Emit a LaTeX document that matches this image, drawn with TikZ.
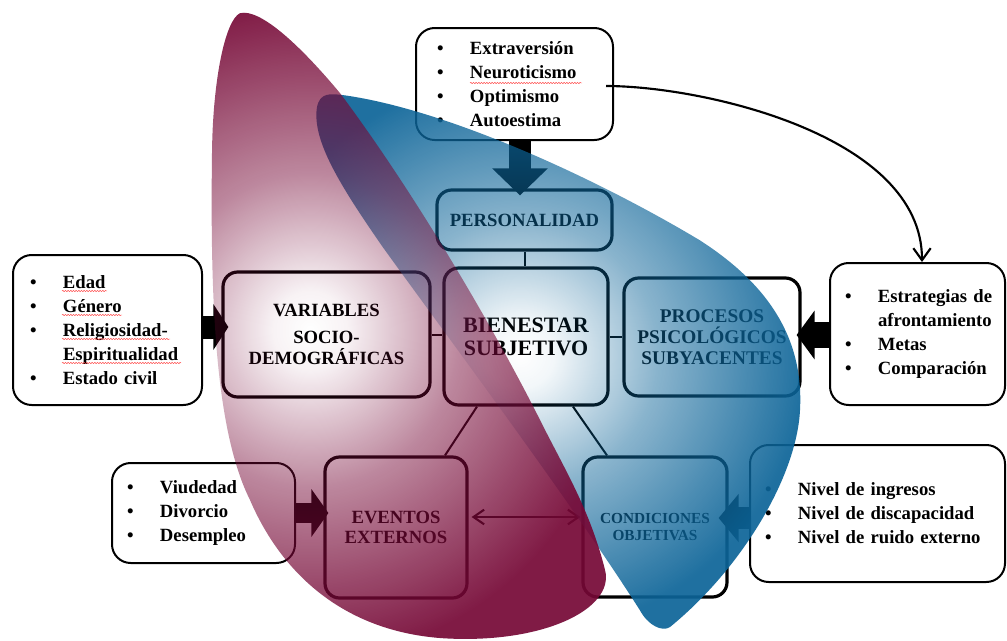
\documentclass[tikz,border=0pt]{standalone}
\usepackage{fontspec}
\setmainfont{Liberation Serif}
\usetikzlibrary{arrows.meta,calc,fadings,decorations.pathmorphing}
\definecolor{blobblue}{RGB}{12,100,152}
\definecolor{blobmaroon}{RGB}{118,8,54}
\pgfdeclareradialshading{fadeshade}{\pgfpointorigin}{color(0bp)=(black); color(3bp)=(black!95); color(12bp)=(black!52); color(25bp)=(black!8); color(50bp)=(black!8)}
\pgfdeclarefading{blobfade}{\pgfuseshading{fadeshade}}
\newcommand\itm[1]{\mbox{\makebox[24.75pt][l]{\textbullet}#1}}
\newcommand\contline[1]{\mbox{\hspace*{24.75pt}#1}}
\begin{document}
\begin{tikzpicture}[x=0.75pt,y=-0.75pt]
\tikzset{
  listbox/.style={draw=black, line width=1.5pt, rounded corners=14pt, fill=white, align=left,
    inner xsep=0pt, inner ysep=0pt, font=\fontsize{14pt}{18pt}\selectfont\bfseries},
  mainbox/.style={draw=black, line width=2.4pt, rounded corners=11pt, fill=white, align=center, inner sep=0pt},
  link/.style={draw=black, line width=1.5pt},
  blockarrow/.style={draw=black, line cap=butt},
  thinarrow/.style={draw=black, line width=1.6pt},
  squig/.style={draw=red!75, line width=0.35pt, decorate, decoration={snake, amplitude=0.45pt, segment length=2pt}}
}
\fill[white] (0,0) rectangle (1007,640);
\useasboundingbox (0,0) rectangle (1007,640);

% list boxes
\node[listbox, minimum width=147.75pt, minimum height=84pt, text width=116.25pt] (perslist) at (514.5,84)
  {\itm{Extraversión}\\\itm{Neuroticismo}\\\itm{Optimismo}\\\itm{Autoestima}};
\node[listbox, minimum width=141.75pt, minimum height=112.5pt, text width=116.25pt] (socio) at (107.5,330)
  {\itm{Edad}\\\itm{Género}\\\itm{Religiosidad-}\\\contline{Espiritualidad}\\\itm{Estado civil}};
\node[listbox, minimum width=131.25pt, minimum height=106.5pt, text width=108.75pt] (proclist) at (917.5,334)
  {\itm{Estrategias de}\\\contline{afrontamiento}\\\itm{Metas}\\\itm{Comparación}};
\node[listbox, minimum width=137.25pt, minimum height=75pt, text width=114.75pt] (viud) at (203.5,513)
  {\itm{Viudedad}\\\itm{Divorcio}\\\itm{Desempleo}};
\node[listbox, minimum width=191.25pt, minimum height=102.75pt, text width=168.75pt] (nivel) at (877.5,513.5)
  {\itm{Nivel de ingresos}\\\itm{Nivel de discapacidad}\\\itm{Nivel de ruido externo}};

% main boxes
\node[mainbox, minimum width=131.25pt, minimum height=45pt, font=\fontsize{14pt}{16pt}\selectfont\bfseries] (pers) at (524.5,220) {PERSONALIDAD};
\node[mainbox, minimum width=155.25pt, minimum height=93.75pt, font=\fontsize{14pt}{15.75pt}\selectfont\bfseries] (vars) at (326.5,334.5) {VARIABLES\\[4.5pt]SOCIO-\\DEMOGRÁFICAS};
\node[mainbox, minimum width=123pt, minimum height=102.75pt, font=\fontsize{16.5pt}{17.25pt}\selectfont\bfseries] (bien) at (526,336.5) {BIENESTAR\\SUBJETIVO};
\node[mainbox, minimum width=132pt, minimum height=88.5pt, font=\fontsize{14.5pt}{15.75pt}\selectfont\bfseries] (proc) at (712,337) {PROCESOS\\PSICOLÓGICOS\\SUBYACENTES};
\node[mainbox, minimum width=106.5pt, minimum height=105.75pt, font=\fontsize{14pt}{15pt}\selectfont\bfseries] (ev) at (396,527.5) {EVENTOS\\EXTERNOS};
\node[mainbox, minimum width=108pt, minimum height=105pt, font=\fontsize{11.5pt}{12.75pt}\selectfont\bfseries] (cond) at (655,527) {CONDICIONES\\OBJETIVAS};

% links
\draw[link] (pers.south) -- (pers.south |- bien.north);
\draw[link] (vars.east) -- (vars.east -| bien.west);
\draw[link] (bien.east) -- (bien.east -| proc.west);
\draw[link] ($(bien.south)+(-49,0)$) -- ($(ev.north)+(49,0)$);
\draw[link] ($(bien.south)+(47,0)$) -- ($(cond.north)+(-48,0)$);

% block arrows
\draw[blockarrow, line width=16.5pt, -{Triangle[width=40.5pt,length=20.25pt]}] ($(perslist.south)+(5.5,0)$) -- ($(pers.north)+(-4.5,7)$);
\draw[blockarrow, line width=17.25pt, -{Triangle[width=33.75pt,length=11.25pt]}] ($(socio.east)+(0,-3)$) -- ($(vars.west)+(7,-7.5)$);
\draw[blockarrow, line width=19.5pt, -{Triangle[width=36pt,length=13.5pt]}] ($(proclist.west)+(0,1)$) -- ($(proc.east)+(-5,-2)$);
\draw[blockarrow, line width=15pt, -{Triangle[width=35.25pt,length=12.75pt]}] (viud.east) -- ($(ev.west)+(5,-14.5)$);
\draw[blockarrow, line width=16.5pt, -{Triangle[width=35.25pt,length=15pt]}] ($(nivel.west)+(0,4.5)$) -- ($(cond.east)+(-10,-9)$);

% thin arrows
\draw[thinarrow, -{Straight Barb[length=9pt,width=13pt]}] ($(perslist.east)+(-8,2)$) .. controls (702,86) and (922,135) .. ($(proclist.north)+(4.5,0)$);
\draw[thinarrow, {Straight Barb[length=8pt,width=11pt]}-{Straight Barb[length=8pt,width=11pt]}] ($(ev.east)+(3,-10.5)$) -- ($(cond.west)+(-1,-10)$);

% blobs
\fill[blobblue, path fading=blobfade] (235,77) (805,633)
  (317,107) .. controls (320,92) and (330,93) .. (345,95)
  .. controls (450,110) and (600,180) .. (700,240)
  .. controls (770,285) and (805,340) .. (800,413)
  .. controls (795,480) and (740,570) .. (670,627)
  .. controls (662,632) and (648,625) .. (640,610)
  .. controls (570,500) and (450,340) .. (383,247)
  .. controls (340,185) and (312,140) .. (317,107) -- cycle;
\fill[blobmaroon, path fading=blobfade] (0,5) (620,655)
  (240,13) .. controls (225,20) and (213,80) .. (212,150)
  .. controls (210,300) and (215,430) .. (250,500)
  .. controls (280,570) and (340,630) .. (440,638)
  .. controls (540,645) and (615,610) .. (605,570)
  .. controls (590,510) and (565,470) .. (540,420)
  .. controls (500,340) and (420,200) .. (340,93)
  .. controls (300,45) and (260,8) .. (240,13) -- cycle;

% spell-check underlines
\draw[squig] (470,83) -- (582,83);
\draw[squig] (62,291) -- (107,291);
\draw[squig] (62,315) -- (122,315);
\draw[squig] (62,339) -- (170,339);
\draw[squig] (62,363) -- (181,363);
\end{tikzpicture}
\end{document}
